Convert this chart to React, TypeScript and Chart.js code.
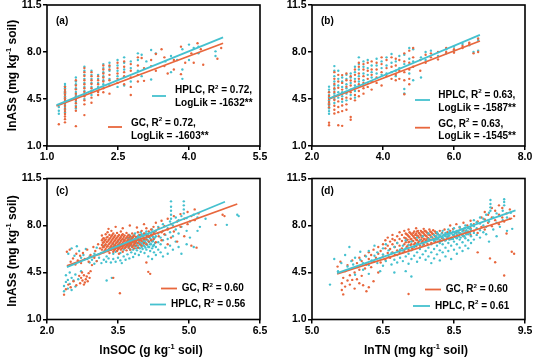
import React, { useEffect, useRef } from 'react';
import { Chart, registerables } from 'chart.js';

Chart.register(...registerables);

const TEAL = '#45C1CF';
const ORANGE = '#E8673D';
const FONT = "Arial, 'Liberation Sans', Helvetica, sans-serif";

// ---------- tick values / labels ----------
const yTicks = [1.0, 4.5, 8.0, 11.5];
const yTickLabels = ['1.0', '4.5', '8.0', '11.5'];
const aXTicks = [1.0, 2.5, 4.0, 5.5];
const aXTickLabels = ['1.0', '2.5', '4.0', '5.5'];
const bXTicks = [2.0, 4.0, 6.0, 8.0];
const bXTickLabels = ['2.0', '4.0', '6.0', '8.0'];
const cXTicks = [2.0, 3.5, 5.0, 6.5];
const cXTickLabels = ['2.0', '3.5', '5.0', '6.5'];
const dXTicks = [5.0, 6.5, 8.0, 9.5];
const dXTickLabels = ['5.0', '6.5', '8.5', '9.5'];

// ---------- data: rows are [x, y1, y2, ...] ----------
const aGc = [
  [1.25, 2.62],
  [1.38, 5.4, 5.18, 5.0, 4.82, 4.6, 4.42, 4.2, 4.0, 3.78, 3.6, 3.38, 3.2, 3.0, 2.76],
  [1.61, 5.9, 5.5, 5.22, 4.9, 4.68, 4.42, 4.18, 3.9, 3.62, 2.48],
  [1.79, 6.8, 6.5, 6.22, 5.9, 5.6, 5.3, 5.02, 4.7, 4.4, 4.1, 3.3],
  [1.94, 6.5, 6.2, 5.9, 5.62, 5.3, 5.0, 4.6, 4.22],
  [2.08, 6.2, 5.9, 5.6, 5.3, 5.02, 4.8],
  [2.19, 7.0, 6.7, 6.4, 6.1, 5.8, 5.3, 5.0],
  [2.32, 7.0, 6.7, 6.3, 5.9, 4.9],
  [2.49, 7.2, 6.8, 6.4, 6.0, 5.7],
  [2.63, 7.3, 6.9, 6.5, 6.2, 5.6],
  [2.77, 7.1, 6.6, 6.1, 5.4, 4.8],
  [2.92, 7.6, 7.0, 6.3, 5.8],
  [3.0, 7.55],
  [3.05, 6.8, 5.85],
  [3.2, 7.4, 6.95],
  [3.3, 7.85, 6.6],
  [3.42, 8.2],
  [3.48, 7.6, 6.95],
  [3.55, 6.4],
  [3.68, 7.4, 6.7],
  [3.83, 8.4, 6.35],
  [3.92, 7.2],
  [4.05, 7.9],
  [4.1, 7.2],
  [4.18, 8.65],
  [4.25, 8.2],
  [4.3, 7.05],
  [4.6, 7.5],
  [4.68, 8.3],
];
const aHplc = [
  [1.25, 3.9, 3.62, 3.4],
  [1.38, 5.62, 5.45, 5.3, 5.08, 4.92, 4.7, 4.55, 4.3, 4.12, 3.9, 3.72, 3.5],
  [1.61, 6.1, 5.8, 5.6, 5.3, 5.02, 4.8, 4.5, 4.3, 4.0, 3.8],
  [1.79, 6.9, 6.6, 6.3, 6.0, 5.7, 5.4, 5.1, 4.8, 4.5],
  [1.94, 6.6, 6.3, 6.0, 5.7, 5.4, 5.1, 4.8],
  [2.08, 6.3, 6.0, 5.7, 5.4, 5.1],
  [2.19, 7.1, 6.8, 6.5, 6.2, 5.9, 5.6],
  [2.32, 7.2, 6.9, 6.6, 6.0, 5.5],
  [2.49, 7.4, 7.0, 6.6, 6.2, 5.4],
  [2.63, 7.6, 7.2, 6.7, 5.5],
  [2.77, 7.3, 6.8, 5.8],
  [2.92, 7.9, 7.4, 6.6],
  [3.0, 7.8, 6.2],
  [3.1, 7.3],
  [3.2, 8.15, 5.95],
  [3.3, 7.9],
  [3.5, 7.3],
  [3.62, 7.7, 6.5],
  [3.75, 7.4],
  [3.86, 8.2, 6.7, 6.0],
  [4.0, 8.55, 7.4],
  [4.1, 8.3],
  [4.2, 8.4, 7.9],
  [4.56, 8.05, 7.7],
];
const aGcLine = [[1.2, 3.98], [4.72, 8.65]];
const aHplcLine = [[1.2, 4.05], [4.72, 9.09]];

const bGc = [
  [2.48, 5.0, 4.72, 4.5, 4.28, 4.1, 3.88, 2.74, 2.55],
  [2.63, 6.5, 6.0, 5.62, 5.3, 5.02, 4.7, 4.42, 4.0, 3.7, 3.42],
  [2.74, 6.3, 5.8, 5.33, 4.8, 4.32, 3.9, 3.52, 2.55],
  [2.85, 6.28, 5.7, 5.2, 4.9, 4.5, 4.02, 3.6, 2.5],
  [2.97, 6.4, 5.9, 5.42, 5.0, 4.6, 4.1, 3.7],
  [3.09, 6.2, 5.88, 5.5, 5.0, 4.52, 3.16, 2.95],
  [3.21, 6.7, 6.3, 5.8, 5.32, 4.8, 4.4],
  [3.32, 7.2, 6.9, 6.4, 6.0, 5.6, 5.1, 4.7],
  [3.45, 7.1, 6.7, 6.2, 5.7, 5.3, 4.9],
  [3.57, 7.2, 6.6, 6.0, 5.4],
  [3.68, 7.3, 6.7, 6.3, 5.8, 5.2],
  [3.82, 7.2, 6.7, 6.1, 5.7],
  [3.96, 7.6, 7.1, 6.5, 5.5],
  [4.1, 7.4, 6.8, 6.2],
  [4.24, 7.6, 6.9, 6.0],
  [4.36, 7.5, 7.0, 6.3, 5.9],
  [4.46, 7.4, 6.6, 6.0],
  [4.6, 7.9, 7.3, 6.5, 5.9, 4.85],
  [4.74, 8.1, 7.2, 6.7, 6.0, 5.6],
  [4.85, 8.3, 7.6, 6.9],
  [5.05, 7.4, 6.6],
  [5.2, 7.8, 7.2],
  [5.35, 7.9, 7.6],
  [5.55, 8.0, 7.45],
  [5.78, 8.3, 8.0],
  [6.0, 8.2, 7.95],
  [6.24, 8.45, 8.3],
  [6.43, 8.7, 8.6],
  [6.55, 7.9],
  [6.68, 8.0, 9.0],
];
const bHplc = [
  [2.48, 5.42, 5.2, 5.02, 4.8, 4.62, 4.4, 4.18, 4.0, 3.8, 3.6, 3.4],
  [2.63, 6.95, 6.6, 6.2, 5.8, 5.5, 5.2, 4.9, 4.5, 4.2],
  [2.74, 6.6, 6.0, 5.5, 5.0, 4.6],
  [2.85, 6.1, 5.8, 5.4, 5.0, 4.7, 4.3],
  [2.97, 6.3, 6.0, 5.6, 5.3, 4.9, 4.4],
  [3.09, 6.4, 6.1, 5.7, 5.2, 4.8],
  [3.21, 6.9, 6.5, 6.0, 5.5, 5.1, 4.6],
  [3.32, 7.6, 7.1, 6.7, 6.2, 5.8, 5.4],
  [3.45, 7.3, 6.9, 6.4, 5.9, 5.5],
  [3.57, 7.4, 6.8, 6.3, 5.7],
  [3.68, 7.0, 6.5, 6.1],
  [3.82, 7.5, 7.0, 6.4],
  [3.96, 7.3, 6.8, 6.3],
  [4.1, 7.6, 7.0, 6.4],
  [4.24, 7.85, 7.2, 6.5],
  [4.36, 7.3, 6.6, 6.2],
  [4.46, 7.7, 6.8],
  [4.6, 7.8, 7.1, 5.24, 4.92],
  [4.74, 8.3, 7.5, 6.4],
  [4.85, 8.2, 7.3, 5.9],
  [5.07, 7.6, 6.1],
  [5.2, 8.0, 7.4],
  [5.35, 8.1],
  [5.55, 7.7],
  [5.78, 8.2, 7.9],
  [6.0, 8.4, 8.1],
  [6.24, 8.6],
  [6.43, 8.5],
  [6.55, 8.0],
  [6.68, 8.1, 8.9],
];
const bGcLine = [[2.48, 4.5], [6.73, 8.82]];
const bHplcLine = [[2.48, 4.54], [6.73, 9.27]];

const cGc = [
  [2.36, 2.85], [2.4, 3.25], [2.45, 3.6], [2.5, 3.4], [2.56, 3.85], [2.62, 3.55],
  [2.68, 4.25], [2.7, 3.7], [2.72, 4.1], [2.74, 4.5], [2.75, 3.9], [2.78, 4.3, 3.6],
  [2.8, 3.75], [2.82, 4.0], [2.84, 4.2], [2.86, 3.85], [2.88, 4.45], [2.9, 4.1], [2.92, 4.6],
  [3.4, 4.1], [3.54, 2.95], [4.14, 4.55], [4.18, 4.4], [4.1, 5.25],
  [2.42, 6.05], [2.48, 6.2], [2.5, 5.3], [2.55, 5.55], [2.6, 5.1], [2.62, 5.9], [2.65, 5.4],
  [2.7, 5.75], [2.72, 5.2], [2.76, 5.95], [2.8, 5.5], [2.85, 6.2], [2.88, 5.3], [2.92, 5.8],
  [2.95, 5.05], [2.98, 6.4], [3.0, 5.6], [3.02, 6.1], [3.05, 5.35], [3.08, 6.6], [3.1, 5.85], [3.12, 6.3],
  [3.16, 6.2, 6.55, 6.9, 7.25],
  [3.2, 6.0, 6.4, 6.75, 7.05],
  [3.24, 6.25, 6.6, 6.95, 7.35],
  [3.28, 6.1, 6.45, 6.8, 7.15, 7.5],
  [3.32, 5.95, 6.3, 6.65, 7.0, 7.3],
  [3.36, 6.2, 6.5, 6.85, 7.2, 7.6],
  [3.4, 6.05, 6.4, 6.7, 7.05, 7.4],
  [3.44, 6.25, 6.55, 6.9, 7.25],
  [3.48, 6.1, 6.45, 6.75, 7.1, 7.45],
  [3.52, 5.9, 6.3, 6.6, 6.95, 7.3],
  [3.56, 6.2, 6.5, 6.85, 7.15, 7.55],
  [3.6, 6.05, 6.4, 6.7, 7.0, 7.35],
  [3.64, 6.3, 6.6, 6.9, 7.25],
  [3.68, 6.15, 6.5, 6.8, 7.1, 7.45],
  [3.72, 6.35, 6.65, 6.95, 7.3],
  [3.76, 6.2, 6.55, 6.85, 7.2],
  [3.8, 6.4, 6.75, 7.05, 7.4],
  [3.84, 6.3, 6.6, 6.95, 7.25],
  [3.88, 6.5, 6.8, 7.15],
  [3.92, 6.35, 6.7, 7.05, 7.5],
  [3.96, 6.6, 6.9, 7.3],
  [4.0, 6.5, 6.85, 7.2, 7.6],
  [4.05, 6.7, 7.0, 7.4],
  [4.1, 6.6, 6.95, 7.3, 7.8],
  [4.15, 6.8, 7.15, 7.55],
  [4.2, 6.9, 7.25, 7.7],
  [3.18, 6.38, 6.72, 7.02], [3.22, 6.15, 6.52, 6.88], [3.26, 6.42, 6.78, 7.1], [3.3, 6.22, 6.58, 6.92],
  [3.34, 6.4, 6.75, 7.08], [3.38, 6.3, 6.62, 6.95, 7.3], [3.42, 6.18, 6.48, 6.82, 7.15],
  [3.46, 6.35, 6.68, 7.02], [3.5, 6.22, 6.55, 6.88, 7.2], [3.54, 6.4, 6.72, 7.05],
  [3.58, 6.3, 6.62, 6.95, 7.28], [3.62, 6.5, 6.82, 7.15], [3.66, 6.38, 6.7, 7.02], [3.7, 6.55, 6.88, 7.2],
  [3.74, 6.45, 6.78, 7.1], [3.78, 6.62, 6.95], [3.82, 6.5, 6.85, 7.15], [3.86, 6.7, 7.0],
  [3.3, 7.75], [3.45, 7.9], [3.6, 7.8], [3.75, 8.0], [3.9, 7.85], [4.05, 8.1],
  [4.25, 7.0, 7.45, 7.9], [4.3, 6.75, 7.6, 8.2], [4.36, 7.2, 7.8], [4.42, 6.9, 7.5, 8.35],
  [4.48, 7.35, 7.95], [4.55, 6.6, 7.7, 8.5], [4.62, 7.1, 8.1], [4.68, 7.55, 8.7],
  [4.75, 6.8, 8.3], [4.82, 7.9, 8.85], [4.9, 7.2, 8.5], [4.97, 8.1, 9.0], [5.05, 6.5, 8.7],
  [5.12, 8.4, 9.2], [5.16, 6.35], [5.2, 8.9], [5.56, 8.05], [5.71, 8.8], [5.75, 8.7],
];
const cHplc = [
  [2.36, 3.1, 3.5], [2.4, 3.8, 4.3], [2.44, 3.3, 3.95], [2.48, 3.65, 4.5], [2.52, 3.2, 4.1],
  [2.56, 3.9], [2.6, 3.45, 4.35], [2.66, 4.0], [2.72, 4.6],
  [2.45, 5.9], [2.52, 6.3], [2.58, 5.75], [2.63, 6.45], [2.68, 6.1], [2.72, 5.6], [2.77, 5.8],
  [2.82, 6.25], [2.85, 5.5], [2.9, 5.25, 5.7], [2.95, 5.45], [3.0, 5.15, 5.9], [3.05, 5.35, 6.35],
  [3.1, 5.6], [3.15, 5.2, 5.95], [3.2, 5.45, 6.5], [3.26, 3.9, 5.7], [3.37, 4.1], [3.25, 5.3],
  [3.3, 5.55, 6.15], [3.35, 5.25, 6.4], [3.4, 5.5, 5.9, 6.6], [3.45, 5.3, 6.05], [3.5, 5.6, 6.3, 6.8],
  [3.55, 5.4, 5.95], [3.58, 5.2, 6.5], [3.62, 5.7, 6.2, 6.95], [3.66, 5.45, 6.4], [3.7, 5.85, 6.6, 7.1],
  [3.74, 5.55, 6.3, 6.85, 7.3], [3.78, 6.0, 6.55, 7.05], [3.82, 5.65, 6.2, 6.75, 7.2],
  [3.86, 5.9, 6.45, 6.95, 7.4], [3.9, 6.15, 6.65, 7.1], [3.94, 5.8, 6.35, 6.85, 7.3],
  [3.98, 6.05, 6.55, 7.0, 7.5], [4.02, 6.25, 6.75, 7.2], [4.06, 5.95, 6.45, 6.9, 7.35],
  [4.1, 6.2, 6.65, 7.1, 7.55], [4.14, 5.7, 6.4, 6.85, 7.3], [4.18, 6.1, 6.6, 7.05],
  [4.22, 5.5, 6.3, 6.8, 7.25, 7.7], [4.26, 6.0, 6.55, 7.0, 7.5], [4.3, 5.8, 6.4, 7.2],
  [3.72, 6.45, 6.75, 7.05], [3.76, 6.2, 6.6, 6.95], [3.8, 6.4, 6.8, 7.15], [3.84, 6.55, 6.9, 7.25],
  [3.88, 6.3, 6.7, 7.0], [3.92, 6.5, 6.95, 7.2], [3.96, 6.3, 6.75, 7.1], [4.0, 6.4, 6.65, 7.0, 7.35],
  [4.04, 6.55, 6.85, 7.15], [4.08, 6.35, 6.75, 7.05, 7.4], [4.12, 6.55, 6.95, 7.2],
  [4.16, 6.4, 6.75, 7.15], [4.2, 6.6, 6.95, 7.35], [4.24, 6.45, 6.85, 7.15], [4.28, 6.7, 7.1, 7.4],
  [4.35, 6.2, 6.75, 7.4, 7.9], [4.4, 6.0, 6.6, 7.1], [4.45, 5.7, 6.9, 7.6, 8.1], [4.5, 6.35, 7.3],
  [4.55, 5.9, 7.0, 7.8], [4.6, 6.5, 7.5, 8.3], [4.62, 8.5, 8.8, 9.1, 9.4, 9.8], [4.66, 6.2, 7.2, 8.0],
  [4.72, 6.8, 7.7, 8.6], [4.78, 6.4, 7.4, 8.4], [4.84, 5.9, 7.9, 8.7], [4.89, 8.9, 9.2, 9.5, 9.8],
  [4.95, 6.6, 7.6, 8.55], [5.02, 7.1, 8.3], [5.1, 6.4, 8.8], [5.18, 7.6, 8.6], [5.23, 7.9],
  [5.35, 8.5], [5.8, 8.05], [6.02, 8.8], [6.05, 8.7],
];
const cGcLine = [[2.42, 5.0], [6.02, 9.6]];
const cHplcLine = [[2.42, 4.9], [5.76, 9.77]];

const dGc = [
  [5.54, 4.94], [5.6, 5.3], [5.63, 3.2, 3.7], [5.66, 2.87, 4.1], [5.7, 3.45, 4.6], [5.75, 3.9, 5.05],
  [5.8, 3.6, 4.3], [5.85, 3.95, 5.4], [5.9, 3.3, 4.5], [5.95, 4.0, 5.2], [6.0, 3.7, 4.7, 5.6],
  [6.05, 4.25, 5.35], [6.08, 3.55], [6.12, 4.8, 5.75], [6.15, 3.1, 5.1], [6.2, 3.4, 5.5, 6.0],
  [6.25, 4.9, 5.8], [6.3, 3.85, 5.3, 6.2], [6.35, 5.6], [6.4, 4.5, 5.9, 6.4], [6.45, 5.25, 6.1],
  [6.5, 5.7, 6.6], [6.55, 5.45, 6.3, 6.9], [6.6, 5.95, 6.5, 7.1], [6.65, 5.6, 6.25, 6.8],
  [6.7, 6.0, 6.6, 7.0, 7.3], [6.75, 5.8, 6.4, 6.9], [6.8, 6.15, 6.7, 7.2], [6.85, 5.95, 6.5, 7.0, 7.5],
  [6.9, 6.3, 6.85, 7.3], [6.95, 6.1, 6.6, 7.1, 7.6], [7.0, 6.4, 6.9, 7.35], [7.04, 2.9, 6.2, 6.75, 7.2, 7.7],
  [7.08, 6.55, 7.0, 7.45], [7.12, 6.3, 6.85, 7.3], [7.16, 6.6, 7.1, 7.55], [7.2, 6.45, 6.95, 7.4, 7.8],
  [7.24, 6.7, 7.2, 7.6], [7.28, 6.5, 6.9, 7.35], [7.32, 6.75, 7.1, 7.5], [7.36, 6.6, 7.0, 7.4, 7.75],
  [7.4, 6.85, 7.25, 7.6], [7.44, 6.65, 7.05, 7.45], [7.48, 6.9, 7.3, 7.7], [7.52, 6.7, 7.15, 7.5],
  [7.56, 6.95, 7.35, 7.65], [7.6, 6.8, 7.2, 7.55], [7.65, 7.0, 7.4], [7.7, 6.85, 7.25, 7.6],
  [6.98, 6.75, 7.05, 7.4], [7.02, 6.5, 6.95, 7.3], [7.06, 6.8, 7.15, 7.5], [7.1, 6.6, 7.0, 7.35],
  [7.14, 6.85, 7.2, 7.45], [7.18, 6.7, 7.05, 7.3], [7.22, 6.9, 7.25, 7.55], [7.26, 6.8, 7.1, 7.45],
  [7.3, 6.95, 7.25, 7.6], [7.34, 6.85, 7.2, 7.5], [7.38, 7.0, 7.3, 7.6], [7.42, 6.9, 7.2, 7.5],
  [7.46, 7.05, 7.35], [7.5, 6.95, 7.25, 7.55], [7.54, 7.1, 7.4], [7.58, 7.0, 7.3], [7.62, 7.15, 7.45],
  [7.66, 7.05, 7.35],
  [7.75, 7.05, 7.45], [7.8, 6.9, 7.3, 7.7], [7.86, 7.15, 7.5], [7.92, 7.0, 7.6, 8.0], [7.98, 7.3, 7.75],
  [8.05, 7.1, 7.5, 8.1], [8.12, 7.4, 7.85], [8.2, 7.2, 7.65, 8.2], [8.28, 7.5, 8.0], [8.35, 7.3, 7.8, 8.35],
  [8.42, 7.6, 8.1], [8.5, 6.0, 7.45, 8.3], [8.58, 7.9, 8.6], [8.65, 7.7, 8.45, 9.0], [8.72, 8.2, 8.8],
  [8.76, 5.55], [8.8, 7.95, 8.6, 9.3], [8.87, 5.26, 8.4, 9.1], [8.95, 8.1, 8.8, 9.5], [9.02, 8.6, 9.3],
  [9.06, 4.28, 8.3], [9.11, 7.4, 8.9], [9.18, 8.5, 9.2], [9.22, 6.04], [9.27, 5.9, 8.7],
];
const dHplc = [
  [5.38, 3.6], [5.47, 5.5], [5.55, 4.6], [5.62, 5.2], [5.7, 5.8], [5.75, 4.95], [5.79, 6.4],
  [5.83, 5.35], [5.87, 5.1], [5.91, 4.33, 5.6], [5.96, 4.9], [6.02, 5.45, 6.05], [6.08, 4.7, 5.2],
  [6.14, 5.7], [6.2, 4.4, 5.05, 6.1], [6.26, 5.4], [6.32, 5.75, 6.5], [6.38, 5.2, 6.0],
  [6.44, 4.6, 5.55], [6.5, 5.0, 5.85, 6.3], [6.56, 5.35, 6.6], [6.62, 5.65, 6.15],
  [6.68, 5.1, 5.95], [6.74, 4.5, 5.45, 6.4], [6.8, 5.25, 5.8, 6.7], [6.86, 5.6, 6.2],
  [6.92, 5.35, 6.0, 6.5], [6.98, 4.6, 5.7, 6.3, 6.9], [7.04, 5.15, 5.9, 6.55], [7.1, 4.2, 5.5, 6.15, 6.8],
  [7.16, 5.75, 6.4], [7.22, 5.3, 6.0, 6.65, 7.1], [7.28, 5.6, 6.25, 6.9], [7.34, 5.85, 6.5, 7.2],
  [7.4, 5.45, 6.1, 6.75], [7.46, 5.7, 6.35, 7.0, 7.4], [7.52, 5.2, 6.0, 6.6, 7.15],
  [7.58, 5.55, 6.25, 6.85, 7.3], [7.64, 5.85, 6.5, 7.0, 7.5], [7.7, 5.4, 6.15, 6.7, 7.2],
  [7.76, 6.0, 6.6, 7.1, 7.6], [7.82, 5.7, 6.35, 6.9, 7.35], [7.88, 6.1, 6.7, 7.2, 7.7],
  [7.94, 5.5, 6.5, 7.0, 7.45], [8.0, 6.2, 6.8, 7.3, 7.8], [8.06, 5.9, 6.6, 7.1, 7.55],
  [8.12, 6.35, 6.95, 7.4, 7.9], [8.18, 6.1, 6.75, 7.25, 7.7], [8.24, 6.5, 7.05, 7.5, 8.0],
  [8.3, 6.3, 6.9, 7.35, 7.85], [8.36, 6.7, 7.2, 7.65, 8.1], [8.42, 6.95, 7.45, 7.95, 8.4],
  [7.62, 6.95, 7.2], [7.66, 6.8, 7.1, 7.35], [7.7, 6.95, 7.25], [7.74, 6.85, 7.15, 7.4],
  [7.78, 7.0, 7.3], [7.82, 6.9, 7.2, 7.45], [7.86, 7.05, 7.35], [7.9, 6.95, 7.25, 7.5],
  [7.94, 7.1, 7.4], [7.98, 7.0, 7.3, 7.55], [8.02, 7.15, 7.45], [8.06, 7.05, 7.35, 7.6],
  [8.1, 7.2, 7.5], [8.14, 7.1, 7.4, 7.7], [8.18, 7.3, 7.55], [8.22, 7.2, 7.45, 7.8],
  [8.26, 7.35, 7.65], [8.3, 7.55, 7.8], [8.34, 7.45, 7.75],
  [8.48, 7.3, 7.8, 8.25], [8.55, 7.1, 7.65, 8.15, 8.6], [8.62, 7.5, 8.0, 8.5], [8.68, 7.35, 7.9, 8.8],
  [8.74, 6.8, 8.3, 8.95], [8.77, 9.1, 9.35, 9.6, 9.9], [8.83, 7.7, 8.6], [8.9, 7.2, 8.2, 8.9],
  [8.97, 7.9, 8.7], [9.03, 8.4, 9.1], [9.06, 9.5, 9.75, 9.95], [9.12, 7.6, 8.6], [9.2, 8.95], [9.23, 7.75],
];
const dGcLine = [[5.53, 4.4], [9.23, 8.54]];
const dHplcLine = [[5.53, 4.45], [9.3, 9.12]];

// ---------- helpers ----------
type Seg = { t: string; sup?: boolean };

const toPoints = (rows: number[][]) =>
  rows.flatMap(([x, ...ys]) => ys.map((y) => ({ x, y })));
const toLine = (pts: number[][]) => pts.map(([x, y]) => ({ x, y }));

function drawRich(ctx: CanvasRenderingContext2D, segs: Seg[], x: number, y: number, size: number, align: 'left' | 'center') {
  let w = 0;
  for (const s of segs) {
    ctx.font = `bold ${s.sup ? size * 0.62 : size}px ${FONT}`;
    w += ctx.measureText(s.t).width;
  }
  let cx = align === 'center' ? x - w / 2 : x;
  ctx.textBaseline = 'middle';
  ctx.textAlign = 'left';
  ctx.fillStyle = '#000';
  for (const s of segs) {
    const fs = s.sup ? size * 0.62 : size;
    ctx.font = `bold ${fs}px ${FONT}`;
    ctx.fillText(s.t, cx, s.sup ? y - size * 0.36 : y);
    cx += ctx.measureText(s.t).width;
  }
}

const r2 = (name: string, val: string): Seg[] => [{ t: `${name}, R` }, { t: '2', sup: true }, { t: ` = ${val}` }];

const Y_TITLE: Seg[] = [{ t: 'lnASs (mg kg' }, { t: '-1', sup: true }, { t: ' soil)' }];

type LegendItem = { color: string; x1: number; x2: number; ly: number; lines: { x: number; y: number; segs: Seg[] }[] };

type PanelCfg = {
  gc: number[][]; hplc: number[][]; gcLine: number[][]; hplcLine: number[][];
  xMin: number; xMax: number; xTicks: number[]; xLabels: string[];
  pad: { left: number; right: number; top: number; bottom: number };
  tag: string; tagDy: number; yTitle: boolean; yTitleDy: number; xTitle: Seg[] | null;
  tealOnTop: boolean;
  legend: LegendItem[];
};

const TOP_PAD_A = { left: 7, right: 275, top: 5, bottom: 198 };
const TOP_PAD_B = { left: 272, right: 10, top: 5, bottom: 198 };
const BOT_PAD_C = { left: 7, right: 275, top: 178.5, bottom: 24.5 };
const BOT_PAD_D = { left: 272, right: 10, top: 178.5, bottom: 24.5 };

const panels: PanelCfg[] = [
  {
    gc: aGc, hplc: aHplc, gcLine: aGcLine, hplcLine: aHplcLine,
    xMin: 1.0, xMax: 5.5, xTicks: aXTicks, xLabels: aXTickLabels, pad: TOP_PAD_A,
    tag: '(a)', tagDy: 16, yTitle: true, yTitleDy: 0, xTitle: null, tealOnTop: false,
    legend: [
      { color: TEAL, x1: 105, x2: 119, ly: 91, lines: [
        { x: 128, y: 85.7, segs: r2('HPLC', '0.72,') },
        { x: 128, y: 98.3, segs: [{ t: 'LogLik = -1632**' }] }] },
      { color: ORANGE, x1: 61, x2: 75, ly: 122, lines: [
        { x: 84, y: 118.3, segs: r2('GC', '0.72,') },
        { x: 84, y: 131, segs: [{ t: 'LogLik = -1603**' }] }] },
    ],
  },
  {
    gc: bGc, hplc: bHplc, gcLine: bGcLine, hplcLine: bHplcLine,
    xMin: 2.0, xMax: 8.0, xTicks: bXTicks, xLabels: bXTickLabels, pad: TOP_PAD_B,
    tag: '(b)', tagDy: 16, yTitle: false, yTitleDy: 0, xTitle: null, tealOnTop: false,
    legend: [
      { color: TEAL, x1: 103, x2: 118, ly: 95, lines: [
        { x: 126.3, y: 90, segs: r2('HPLC', '0.63,') },
        { x: 126.3, y: 103.3, segs: [{ t: 'LogLik = -1587**' }] }] },
      { color: ORANGE, x1: 103, x2: 118, ly: 122.7, lines: [
        { x: 126.3, y: 119, segs: r2('GC', '0.63,') },
        { x: 126.3, y: 131.7, segs: [{ t: 'LogLik = -1545**' }] }] },
    ],
  },
  {
    gc: cGc, hplc: cHplc, gcLine: cGcLine, hplcLine: cHplcLine,
    xMin: 2.0, xMax: 6.5, xTicks: cXTicks, xLabels: cXTickLabels, pad: BOT_PAD_C,
    tag: '(c)', tagDy: 13, yTitle: true, yTitleDy: 2, tealOnTop: false,
    xTitle: [{ t: 'lnSOC (g kg' }, { t: '-1', sup: true }, { t: ' soil)' }],
    legend: [
      { color: ORANGE, x1: 114, x2: 130, ly: 110, lines: [{ x: 134.7, y: 110, segs: r2('GC', '0.60') }] },
      { color: TEAL, x1: 103, x2: 119, ly: 126, lines: [{ x: 124, y: 126, segs: r2('HPLC', '0.56') }] },
    ],
  },
  {
    gc: dGc, hplc: dHplc, gcLine: dGcLine, hplcLine: dHplcLine,
    xMin: 5.0, xMax: 9.5, xTicks: dXTicks, xLabels: dXTickLabels, pad: BOT_PAD_D,
    tag: '(d)', tagDy: 13, yTitle: false, yTitleDy: 0, tealOnTop: true,
    xTitle: [{ t: 'lnTN (mg kg' }, { t: '-1', sup: true }, { t: ' soil)' }],
    legend: [
      { color: ORANGE, x1: 113, x2: 129, ly: 111, lines: [{ x: 133.7, y: 111, segs: r2('GC', '0.60') }] },
      { color: TEAL, x1: 101, x2: 118, ly: 127.5, lines: [{ x: 123, y: 127.5, segs: r2('HPLC', '0.61') }] },
    ],
  },
];

function buildConfig(p: PanelCfg): any {
  const overlay = {
    id: 'overlay',
    afterDraw(chart: any) {
      const { ctx, chartArea: ca } = chart;
      ctx.save();
      ctx.strokeStyle = '#000';
      ctx.lineWidth = 1.6;
      ctx.strokeRect(ca.left, ca.top, ca.right - ca.left, ca.bottom - ca.top);
      ctx.fillStyle = '#000';
      ctx.font = `bold 10px ${FONT}`;
      ctx.textAlign = 'left';
      ctx.textBaseline = 'middle';
      ctx.fillText(p.tag, ca.left + 9, ca.top + p.tagDy);
      for (const it of p.legend) {
        ctx.strokeStyle = it.color;
        ctx.lineWidth = 1.8;
        ctx.beginPath();
        ctx.moveTo(ca.left + it.x1, ca.top + it.ly);
        ctx.lineTo(ca.left + it.x2, ca.top + it.ly);
        ctx.stroke();
        for (const ln of it.lines) drawRich(ctx, ln.segs, ca.left + ln.x, ca.top + ln.y, 10, 'left');
      }
      if (p.yTitle) {
        ctx.save();
        ctx.translate(12.8, (ca.top + ca.bottom) / 2 + p.yTitleDy);
        ctx.rotate(-Math.PI / 2);
        drawRich(ctx, Y_TITLE, 0, 0, 12, 'center');
        ctx.restore();
      }
      if (p.xTitle) {
        drawRich(ctx, p.xTitle, (ca.left + ca.right) / 2 - 2.5, 351, 12, 'center');
      }
      ctx.restore();
    },
  };

  const tickFont = { family: FONT, size: 10.5, weight: 'bold' as const };
  const gcPts = { label: 'GC', data: toPoints(p.gc), backgroundColor: ORANGE, borderWidth: 0, pointRadius: 1.2 };
  const hplcPts = { label: 'HPLC', data: toPoints(p.hplc), backgroundColor: TEAL, borderWidth: 0, pointRadius: 1.2 };
  // earlier datasets are drawn on top
  const pointSets = p.tealOnTop ? [hplcPts, gcPts] : [gcPts, hplcPts];

  return {
    type: 'scatter',
    data: {
      datasets: [
        { label: 'HPLC fit', data: toLine(p.hplcLine), showLine: true, borderColor: TEAL, borderWidth: 1.8, pointRadius: 0, fill: false },
        { label: 'GC fit', data: toLine(p.gcLine), showLine: true, borderColor: ORANGE, borderWidth: 1.8, pointRadius: 0, fill: false },
        ...pointSets,
      ],
    },
    options: {
      responsive: false,
      animation: false,
      events: [],
      layout: { padding: p.pad },
      plugins: { legend: { display: false }, tooltip: { enabled: false } },
      scales: {
        x: {
          type: 'linear',
          position: 'bottom',
          min: p.xMin,
          max: p.xMax,
          afterBuildTicks: (s: any) => { s.ticks = p.xTicks.map((v) => ({ value: v })); },
          afterFit: (s: any) => { s.height = 20; s.paddingLeft = 0; s.paddingRight = 0; },
          grid: { display: true, drawOnChartArea: false, drawTicks: true, tickLength: 4, color: '#000', lineWidth: 1.5 },
          border: { display: false },
          ticks: {
            autoSkip: false, maxRotation: 0, padding: 1, color: '#000', font: tickFont,
            callback: (_v: any, i: number) => p.xLabels[i],
          },
        },
        y: {
          type: 'linear',
          position: 'left',
          min: 1.0,
          max: 11.5,
          afterBuildTicks: (s: any) => { s.ticks = yTicks.map((v) => ({ value: v })); },
          afterFit: (s: any) => { s.width = 40; s.paddingTop = 0; s.paddingBottom = 0; },
          grid: { display: true, drawOnChartArea: false, drawTicks: true, tickLength: 4, color: '#000', lineWidth: 1.5 },
          border: { display: false },
          ticks: {
            autoSkip: false, padding: 1.5, color: '#000', font: tickFont,
            callback: (_v: any, i: number) => yTickLabels[i],
          },
        },
      },
    },
    plugins: [overlay],
  };
}

function Panel({ cfg }: { cfg: PanelCfg }) {
  const ref = useRef<HTMLCanvasElement>(null);
  useEffect(() => {
    const chart = new Chart(ref.current as HTMLCanvasElement, buildConfig(cfg));
    return () => chart.destroy();
  }, [cfg]);
  return <canvas ref={ref} width={535} height={364} style={{ position: 'absolute', left: 0, top: 0 }} />;
}

export default function App() {
  return (
    <div style={{ position: 'fixed', left: 0, top: 0, width: 535, height: 364, background: '#fff', overflow: 'hidden' }}>
      {panels.map((p) => (
        <Panel key={p.tag} cfg={p} />
      ))}
    </div>
  );
}
